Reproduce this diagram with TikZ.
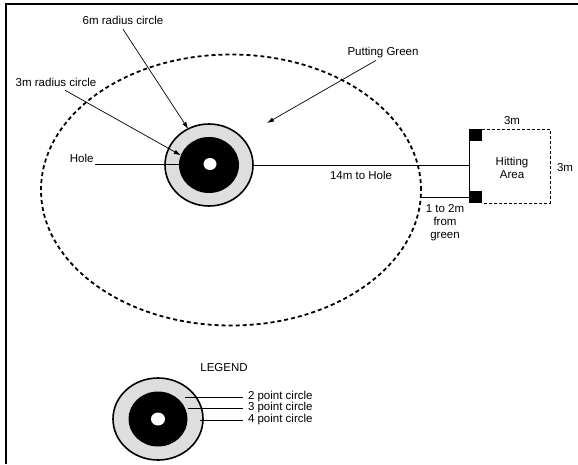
\documentclass[tikz,border=0pt]{standalone}
\usepackage{fontspec}
\setmainfont{Liberation Sans}
\usetikzlibrary{shapes.geometric,arrows.meta,positioning,calc}

\begin{document}
\begin{tikzpicture}[x=1pt, y=-1pt, inner sep=0pt, outer sep=0pt,
    every node/.style={font=\fontsize{11.5}{13}\selectfont},
    puttgreen/.style={ellipse, draw, line width=1.8pt, dash pattern=on 4pt off 3pt},
    ring/.style={ellipse, draw, line width=1.6pt, fill=black!13},
    bull/.style={ellipse, fill=black},
    cup/.style={ellipse, fill=white},
    peg/.style={rectangle, fill=black, minimum width=13pt, minimum height=12pt},
    leader/.style={line width=0.7pt, -{Latex[length=7pt,width=4.5pt]}},
    rule/.style={line width=0.7pt}]
    \useasboundingbox (0,0) rectangle (578,464);
    \draw [line width=1.2pt] (6,464) |- (578,4);

    % green and target
    \node [puttgreen, minimum width=380pt, minimum height=271pt] (G) at (231,190) {};
    \node [ring, minimum width=88pt, minimum height=82pt] (O) at (209,165) {};
    \node [bull, minimum width=60pt, minimum height=56pt] (B) at (209,165) {};
    \node [cup, minimum width=13pt, minimum height=12pt] (C) at (210,164) {};

    % labels with leaders
    \node (R6) at (123,20) {6m radius circle};
    \node (R3) at (56,82) {3m radius circle};
    \node (PG) at (383,53) {Putting Green};
    \coordinate (PGtip) at (267,123);
    \draw [leader] ([yshift=-5pt]R6.south) -- (O.120);
    \draw [leader] ([xshift=9pt,yshift=-4pt]R3.south) -- (B.161);
    \draw [leader] ([xshift=-7pt,yshift=-2pt]PG.south) -- (PGtip);

    \node [anchor=south east, inner sep=1.5pt] (HL) at (95,164) {Hole};
    \draw [rule] (HL.south east) -- (HL.south east -| B.west);

    % hitting area
    \node [peg] (PT) at (475.5,135) {};
    \node [peg] (PB) at (475.5,197) {};
    \coordinate (HC) at (550,129);
    \draw [rule] (PT.north west) -- (PB.south west);
    \draw [rule, dash pattern=on 3pt off 2pt] (PT.north east) -- (HC) |- (PB.south east);
    \node (W3) at (512,121) {3m};
    \node (H3) at (565,168) {3m};
    \node [align=center] (HA) at (512,168) {Hitting\\Area};

    \draw [rule] (O.east) -- node [below=6pt] (D14) {14m to Hole} (O.east -| PT.west);
    \draw [rule] (PB.west) -- (PB.west -| G.east);
    \node [align=center] (GAP) at (445,223) {1 to 2m\\from\\green};

    % legend
    \node (LG) at (224,368) {LEGEND};
    \node [ring, minimum width=90pt, minimum height=82pt] (LO) at (158,419) {};
    \node [bull, minimum width=59pt, minimum height=55pt] (LB) at (158,419) {};
    \node [cup, minimum width=14pt, minimum height=13pt] (LC) at (158,419) {};
    \node [anchor=west] (P2) at (248,397) {2 point circle};
    \node [anchor=west] (P3) at (248,408) {3 point circle};
    \node [anchor=west] (P4) at (248,420) {4 point circle};
    \coordinate (E2) at (185,397);
    \coordinate (E3) at (188,408);
    \coordinate (E4) at (200,420);
    \draw [rule] (E2) -- ([xshift=-5pt]P2.west);
    \draw [rule] (E3) -- ([xshift=-5pt]P3.west);
    \draw [rule] (E4) -- ([xshift=-5pt]P4.west);
\end{tikzpicture}
\end{document}
